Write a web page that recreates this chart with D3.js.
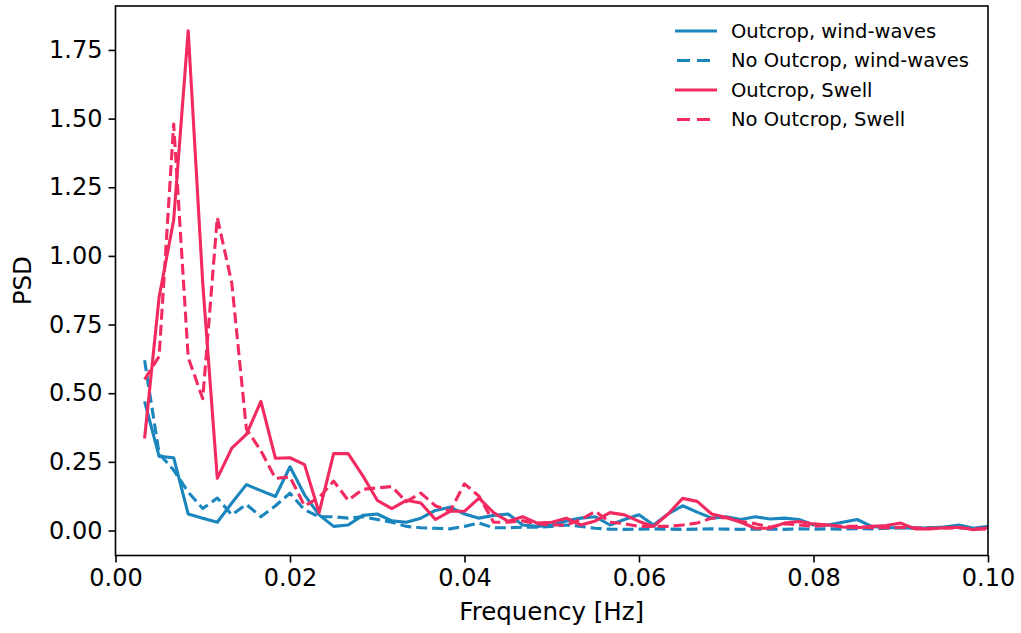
<!DOCTYPE html>
<html><head><meta charset="utf-8">
<script src="https://cdn.jsdelivr.net/npm/d3@7/dist/d3.min.js"></script>
<style>body{margin:0;background:#fff}svg{display:block}text{font-family:"DejaVu Sans",sans-serif}</style>
</head><body><svg id="c" width="1021" height="633"></svg>
<script>
// frequency bins: k/600 Hz, k = 2..60
const binIndex = d3.range(2, 61);
const freqs = binIndex.map(k => k / 600);
const outcropWind = [0.47,0.27,0.265,0.06,0.045,0.03,0.10,0.167,0.145,0.124,0.232,0.13,0.057,0.015,0.02,0.055,0.06,0.035,0.03,0.045,0.073,0.085,0.06,0.045,0.055,0.06,0.02,0.015,0.02,0.035,0.045,0.05,0.02,0.04,0.057,0.02,0.06,0.09,0.067,0.045,0.05,0.04,0.05,0.042,0.045,0.04,0.02,0.02,0.03,0.04,0.015,0.01,0.01,0.008,0.01,0.013,0.02,0.008,0.015];
const noOutcropWind = [0.62,0.28,0.22,0.14,0.08,0.118,0.057,0.095,0.05,0.09,0.136,0.075,0.05,0.05,0.045,0.05,0.04,0.03,0.015,0.01,0.008,0.006,0.015,0.027,0.01,0.01,0.012,0.012,0.015,0.02,0.015,0.008,0.005,0.004,0.005,0.006,0.005,0.004,0.005,0.006,0.005,0.004,0.005,0.005,0.004,0.006,0.005,0.006,0.005,0.007,0.006,0.008,0.01,0.008,0.01,0.012,0.01,0.008,0.007];
const outcropSwell = [0.335,0.85,1.13,1.82,0.90,0.19,0.30,0.35,0.47,0.263,0.265,0.24,0.065,0.28,0.28,0.20,0.11,0.08,0.11,0.10,0.04,0.07,0.07,0.118,0.065,0.033,0.05,0.027,0.03,0.045,0.02,0.035,0.065,0.057,0.033,0.015,0.06,0.117,0.106,0.06,0.047,0.03,0.008,0.008,0.027,0.033,0.024,0.02,0.013,0.01,0.015,0.018,0.027,0.006,0.006,0.01,0.012,0.003,0.01];
const noOutcropSwell = [0.55,0.634,1.48,0.63,0.48,1.14,0.90,0.37,0.29,0.19,0.195,0.09,0.12,0.18,0.11,0.15,0.155,0.16,0.105,0.136,0.09,0.07,0.17,0.125,0.03,0.03,0.035,0.025,0.02,0.02,0.04,0.07,0.03,0.025,0.015,0.015,0.015,0.02,0.027,0.045,0.047,0.033,0.025,0.012,0.025,0.02,0.015,0.02,0.015,0.015,0.01,0.01,0.012,0.01,0.008,0.008,0.01,0.006,0.005];
const seriesNames = ["Outcrop, wind-waves","No Outcrop, wind-waves","Outcrop, Swell","No Outcrop, Swell"];
const xTicks = [0, 0.02, 0.04, 0.06, 0.08, 0.10];
const yTicks = [0, 0.25, 0.5, 0.75, 1.0, 1.25, 1.5, 1.75];

const BLUE = "#1a86bd", RED = "#f12a60";
const series = [
  {name: seriesNames[0], values: outcropWind, color: BLUE, dash: null},
  {name: seriesNames[1], values: noOutcropWind, color: BLUE, dash: "11,5"},
  {name: seriesNames[2], values: outcropSwell, color: RED, dash: null},
  {name: seriesNames[3], values: noOutcropSwell, color: RED, dash: "11,5"}
];

const L = 115.5, R = 988, T = 6, B = 555.5;
const y0px = 530.5, perUnit = 274.6;
const x = d3.scaleLinear().domain([0, 0.1]).range([L, R]);
const y = d3.scaleLinear().domain([(y0px - B) / perUnit, (y0px - T) / perUnit]).range([B, T]);

const svg = d3.select("#c");
const FS = 24;

svg.append("clipPath").attr("id","clp").append("rect")
  .attr("x", L).attr("y", T).attr("width", R - L).attr("height", B - T);

const line = d3.line().x((d, i) => x(freqs[i])).y(d => y(d));
const g = svg.append("g").attr("clip-path", "url(#clp)");
series.forEach(s => {
  g.append("path").datum(s.values)
    .attr("d", line).attr("fill", "none")
    .attr("stroke", s.color).attr("stroke-width", 3.1)
    .attr("stroke-linejoin", "round")
    .attr("stroke-dasharray", s.dash);
});

// axes
const xAxis = d3.axisBottom(x).tickValues(xTicks).tickFormat(d3.format(".2f")).tickSize(7).tickPadding(6);
const yAxis = d3.axisLeft(y).tickValues(yTicks).tickFormat(d3.format(".2f")).tickSize(7).tickPadding(6);
const gx = svg.append("g").attr("transform", `translate(0,${B})`).call(xAxis);
const gy = svg.append("g").attr("transform", `translate(${L},0)`).call(yAxis);
[gx, gy].forEach(a => {
  a.select(".domain").remove();
  a.selectAll("line").attr("stroke", "#000").attr("stroke-width", 1.6);
  a.selectAll("text").attr("font-size", FS).attr("fill", "#000").attr("font-family", "DejaVu Sans");
});
svg.append("rect").attr("x", L).attr("y", T).attr("width", R - L).attr("height", B - T)
  .attr("fill", "none").attr("stroke", "#000").attr("stroke-width", 1.6);

svg.append("text").attr("x", (L + R) / 2).attr("y", 620).attr("text-anchor", "middle")
  .attr("font-size", 24.5).text("Frequency [Hz]");
svg.append("text").attr("transform", `translate(31,${(T + B) / 2}) rotate(-90)`).attr("text-anchor", "middle")
  .attr("font-size", 24.5).text("PSD");

// legend
const lg = svg.append("g");
series.forEach((s, i) => {
  const yy = 31 + i * 29.5;
  lg.append("line").attr("x1", 675).attr("x2", 717).attr("y1", yy).attr("y2", yy)
    .attr("stroke", s.color).attr("stroke-width", 3.1).attr("stroke-dasharray", s.dash ? "13,7" : null)
    .attr("stroke-dashoffset", s.dash ? -2 : 0);
  lg.append("text").attr("x", 731).attr("y", yy).attr("dy", "0.35em").attr("font-size", 19.5).text(s.name);
});
</script></body></html>
